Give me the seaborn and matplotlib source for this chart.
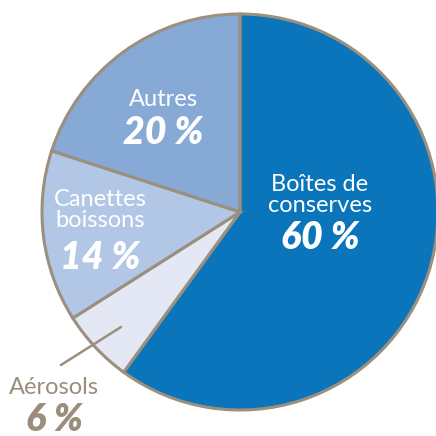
import matplotlib
matplotlib.use("Agg")
import matplotlib.pyplot as plt
import seaborn as sns

sns.set_theme(style="white")
plt.rcParams['font.family'] = ['Lato', 'DejaVu Sans']

categories = ["Boîtes de\nconserves", "Aérosols", "Canettes\nboissons", "Autres"]
values = [60, 6, 14, 20]
pct_labels = ["60 %", "6 %", "14 %", "20 %"]
colors = ["#0a75bb", "#e3e8f4", "#b2c6e6", "#86a9d6"]
edge = "#9c8f7e"

W = H = 436
fig = plt.figure(figsize=(4.36, 4.36), dpi=100)
cx, cy, r = 240, 212, 198
ax = fig.add_axes([(cx - r) / W, (H - cy - r) / H, 2 * r / W, 2 * r / H])
ax.pie(values, colors=colors, startangle=90, counterclock=False, radius=1,
       wedgeprops=dict(edgecolor=edge, linewidth=2.2), normalize=True)
ax.set_xlim(-1, 1)
ax.set_ylim(-1, 1)
ax.set_aspect("equal")
ax.axis("off")

def d(px, py):
    return (px - cx) / r, (cy - py) / r

# label positions (pixel) for name and percent
pos = {
    0: ((320, 195), (320, 238)),
    1: ((54, 387), (54, 420)),
    2: ((100, 210), (100, 258)),
    3: ((163, 100), (163, 133)),
}
for i, cat in enumerate(categories):
    col = "white" if i != 1 else "#9a8d7c"
    (nx, ny), (qx, qy) = pos[i]
    ax.text(*d(nx, ny), cat, ha="center", va="center", color=col,
            fontsize=17, linespacing=1.0, clip_on=False)
    ax.text(*d(qx, qy), pct_labels[i], ha="center", va="center", color=col,
            fontsize=27, fontweight="heavy", fontstyle="italic", clip_on=False)

ax.plot(*zip(d(61, 365), d(121, 327)), color=edge, lw=1.8, clip_on=False)

fig.savefig("out.png", dpi=100, facecolor="white")
